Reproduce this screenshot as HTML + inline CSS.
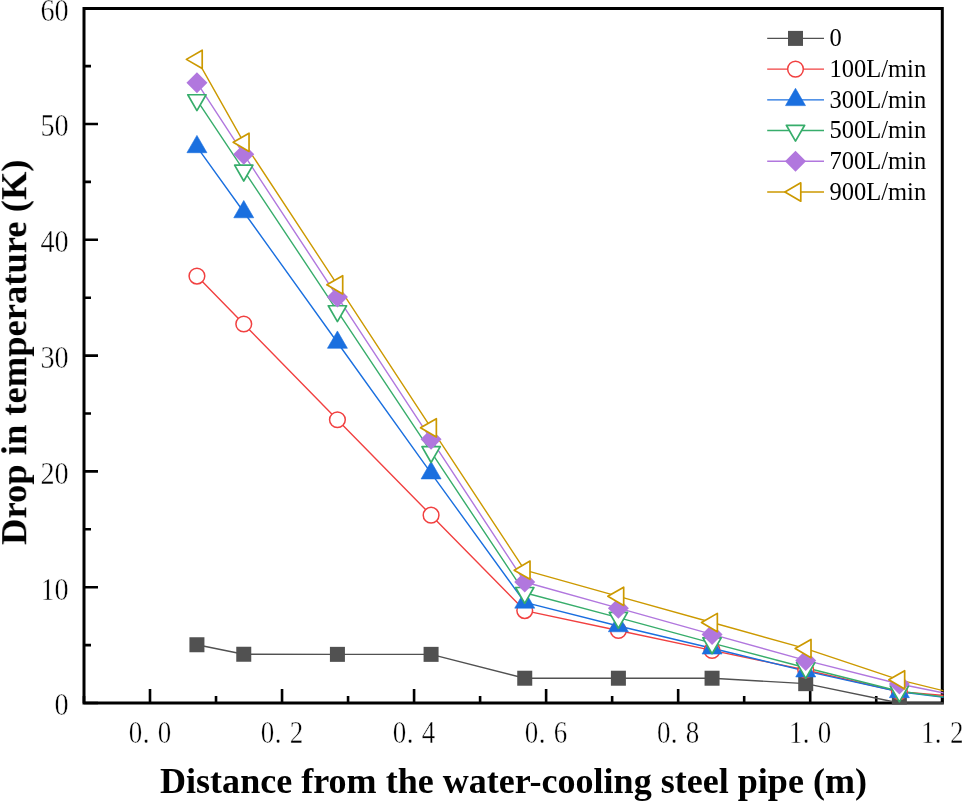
<!DOCTYPE html>
<html><head><meta charset="utf-8"><title>Drop in temperature chart</title>
<style>html,body{margin:0;padding:0;background:#fff;overflow:hidden}svg{display:block;will-change:transform}</style>
</head><body>
<svg width="962" height="801" viewBox="0 0 962 801"><path d="M84.0,8.5 H942.3 V703.0 H84.0 Z" fill="none" stroke="#000" stroke-width="3.0" stroke-linejoin="miter"/>
<path d="M84.0,703.00 h14 M84.0,645.10 h7 M84.0,587.20 h14 M84.0,529.30 h7 M84.0,471.40 h14 M84.0,413.50 h7 M84.0,355.60 h14 M84.0,297.70 h7 M84.0,239.80 h14 M84.0,181.90 h7 M84.0,124.00 h14 M84.0,66.10 h7 M84.0,8.20 h14 M83.98,703.0 v-7 M150.00,703.0 v-14 M216.02,703.0 v-7 M282.04,703.0 v-14 M348.06,703.0 v-7 M414.08,703.0 v-14 M480.10,703.0 v-7 M546.12,703.0 v-14 M612.14,703.0 v-7 M678.16,703.0 v-14 M744.18,703.0 v-7 M810.20,703.0 v-14 M876.22,703.0 v-7 M942.24,703.0 v-14" stroke="#000" stroke-width="2.6" fill="none"/>
<defs><clipPath id="c"><rect x="0" y="0" width="943.5" height="704.4"/></clipPath></defs>
<g clip-path="url(#c)">
<polyline points="196.93,644.75 243.76,654.25 337.42,654.36 431.08,654.36 524.74,678.22 618.40,678.22 712.06,678.22 805.72,683.66 899.38,703.00 993.04,703.00" fill="none" stroke="#515151" stroke-width="1.4" stroke-linejoin="round"/>
<polyline points="196.93,276.05 243.76,323.99 337.42,419.75 431.08,515.17 524.74,610.59 618.40,630.51 712.06,650.43 805.72,670.00 899.38,691.77 993.04,699.53" fill="none" stroke="#F14040" stroke-width="1.4" stroke-linejoin="round"/>
<polyline points="196.93,146.93 243.76,212.01 337.42,342.51 431.08,473.14 524.74,602.37 618.40,625.99 712.06,648.23 805.72,671.15 899.38,691.88 993.04,703.00" fill="none" stroke="#1A6FDF" stroke-width="1.4" stroke-linejoin="round"/>
<polyline points="196.93,100.03 243.76,170.44 337.42,311.02 431.08,451.95 524.74,592.76 618.40,617.66 712.06,643.13 805.72,667.80 899.38,691.30 993.04,703.00" fill="none" stroke="#37AD6B" stroke-width="1.4" stroke-linejoin="round"/>
<polyline points="196.93,82.66 243.76,154.34 337.42,296.89 431.08,439.32 524.74,581.99 618.40,608.16 712.06,634.45 805.72,660.39 899.38,684.01 993.04,703.00" fill="none" stroke="#B177DE" stroke-width="1.4" stroke-linejoin="round"/>
<polyline points="196.93,59.38 243.76,142.30 337.42,284.85 431.08,427.86 524.74,570.18 618.40,596.35 712.06,622.52 805.72,648.57 899.38,679.84 993.04,703.00" fill="none" stroke="#CC9900" stroke-width="1.4" stroke-linejoin="round"/>
<rect x="189.43" y="637.25" width="15.0" height="15.0" fill="#515151"/>
<rect x="236.26" y="646.75" width="15.0" height="15.0" fill="#515151"/>
<rect x="329.92" y="646.86" width="15.0" height="15.0" fill="#515151"/>
<rect x="423.58" y="646.86" width="15.0" height="15.0" fill="#515151"/>
<rect x="517.24" y="670.72" width="15.0" height="15.0" fill="#515151"/>
<rect x="610.90" y="670.72" width="15.0" height="15.0" fill="#515151"/>
<rect x="704.56" y="670.72" width="15.0" height="15.0" fill="#515151"/>
<rect x="798.22" y="676.16" width="15.0" height="15.0" fill="#515151"/>
<rect x="891.88" y="695.50" width="15.0" height="15.0" fill="#515151"/>
<circle cx="196.93" cy="276.05" r="7.85" fill="#fff" stroke="#F14040" stroke-width="1.5"/>
<circle cx="243.76" cy="323.99" r="7.85" fill="#fff" stroke="#F14040" stroke-width="1.5"/>
<circle cx="337.42" cy="419.75" r="7.85" fill="#fff" stroke="#F14040" stroke-width="1.5"/>
<circle cx="431.08" cy="515.17" r="7.85" fill="#fff" stroke="#F14040" stroke-width="1.5"/>
<circle cx="524.74" cy="610.59" r="7.85" fill="#fff" stroke="#F14040" stroke-width="1.5"/>
<circle cx="618.40" cy="630.51" r="7.85" fill="#fff" stroke="#F14040" stroke-width="1.5"/>
<circle cx="712.06" cy="650.43" r="7.85" fill="#fff" stroke="#F14040" stroke-width="1.5"/>
<circle cx="805.72" cy="670.00" r="7.85" fill="#fff" stroke="#F14040" stroke-width="1.5"/>
<circle cx="899.38" cy="691.77" r="7.85" fill="#fff" stroke="#F14040" stroke-width="1.5"/>
<polygon points="196.93,135.38 186.93,152.70 206.93,152.70" fill="#1A6FDF" stroke="#1A6FDF" stroke-width="0.6" stroke-linejoin="round"/>
<polygon points="243.76,200.46 233.76,217.78 253.76,217.78" fill="#1A6FDF" stroke="#1A6FDF" stroke-width="0.6" stroke-linejoin="round"/>
<polygon points="337.42,330.97 327.42,348.29 347.42,348.29" fill="#1A6FDF" stroke="#1A6FDF" stroke-width="0.6" stroke-linejoin="round"/>
<polygon points="431.08,461.59 421.08,478.91 441.08,478.91" fill="#1A6FDF" stroke="#1A6FDF" stroke-width="0.6" stroke-linejoin="round"/>
<polygon points="524.74,590.82 514.74,608.14 534.74,608.14" fill="#1A6FDF" stroke="#1A6FDF" stroke-width="0.6" stroke-linejoin="round"/>
<polygon points="618.40,614.45 608.40,631.77 628.40,631.77" fill="#1A6FDF" stroke="#1A6FDF" stroke-width="0.6" stroke-linejoin="round"/>
<polygon points="712.06,636.68 702.06,654.00 722.06,654.00" fill="#1A6FDF" stroke="#1A6FDF" stroke-width="0.6" stroke-linejoin="round"/>
<polygon points="805.72,659.61 795.72,676.93 815.72,676.93" fill="#1A6FDF" stroke="#1A6FDF" stroke-width="0.6" stroke-linejoin="round"/>
<polygon points="899.38,680.34 889.38,697.66 909.38,697.66" fill="#1A6FDF" stroke="#1A6FDF" stroke-width="0.6" stroke-linejoin="round"/>
<polygon points="196.93,110.59 187.78,94.75 206.08,94.75" fill="#fff" stroke="#37AD6B" stroke-width="1.7" stroke-linejoin="round"/>
<polygon points="243.76,181.00 234.61,165.15 252.91,165.15" fill="#fff" stroke="#37AD6B" stroke-width="1.7" stroke-linejoin="round"/>
<polygon points="337.42,321.58 328.27,305.73 346.57,305.73" fill="#fff" stroke="#37AD6B" stroke-width="1.7" stroke-linejoin="round"/>
<polygon points="431.08,462.51 421.93,446.66 440.23,446.66" fill="#fff" stroke="#37AD6B" stroke-width="1.7" stroke-linejoin="round"/>
<polygon points="524.74,603.32 515.59,587.48 533.89,587.48" fill="#fff" stroke="#37AD6B" stroke-width="1.7" stroke-linejoin="round"/>
<polygon points="618.40,628.22 609.25,612.37 627.55,612.37" fill="#fff" stroke="#37AD6B" stroke-width="1.7" stroke-linejoin="round"/>
<polygon points="712.06,653.70 702.91,637.85 721.21,637.85" fill="#fff" stroke="#37AD6B" stroke-width="1.7" stroke-linejoin="round"/>
<polygon points="805.72,678.36 796.57,662.51 814.87,662.51" fill="#fff" stroke="#37AD6B" stroke-width="1.7" stroke-linejoin="round"/>
<polygon points="899.38,701.87 890.23,686.02 908.53,686.02" fill="#fff" stroke="#37AD6B" stroke-width="1.7" stroke-linejoin="round"/>
<polygon points="196.93,72.16 207.43,82.66 196.93,93.16 186.43,82.66" fill="#B177DE"/>
<polygon points="243.76,143.84 254.26,154.34 243.76,164.84 233.26,154.34" fill="#B177DE"/>
<polygon points="337.42,286.39 347.92,296.89 337.42,307.39 326.92,296.89" fill="#B177DE"/>
<polygon points="431.08,428.82 441.58,439.32 431.08,449.82 420.58,439.32" fill="#B177DE"/>
<polygon points="524.74,571.49 535.24,581.99 524.74,592.49 514.24,581.99" fill="#B177DE"/>
<polygon points="618.40,597.66 628.90,608.16 618.40,618.66 607.90,608.16" fill="#B177DE"/>
<polygon points="712.06,623.95 722.56,634.45 712.06,644.95 701.56,634.45" fill="#B177DE"/>
<polygon points="805.72,649.89 816.22,660.39 805.72,670.89 795.22,660.39" fill="#B177DE"/>
<polygon points="899.38,673.51 909.88,684.01 899.38,694.51 888.88,684.01" fill="#B177DE"/>
<polygon points="186.36,59.38 202.21,50.23 202.21,68.53" fill="#fff" stroke="#CC9900" stroke-width="1.7" stroke-linejoin="round"/>
<polygon points="233.19,142.30 249.04,133.15 249.04,151.45" fill="#fff" stroke="#CC9900" stroke-width="1.7" stroke-linejoin="round"/>
<polygon points="326.85,284.85 342.70,275.70 342.70,294.00" fill="#fff" stroke="#CC9900" stroke-width="1.7" stroke-linejoin="round"/>
<polygon points="420.51,427.86 436.36,418.71 436.36,437.01" fill="#fff" stroke="#CC9900" stroke-width="1.7" stroke-linejoin="round"/>
<polygon points="514.17,570.18 530.02,561.03 530.02,579.33" fill="#fff" stroke="#CC9900" stroke-width="1.7" stroke-linejoin="round"/>
<polygon points="607.83,596.35 623.68,587.20 623.68,605.50" fill="#fff" stroke="#CC9900" stroke-width="1.7" stroke-linejoin="round"/>
<polygon points="701.49,622.52 717.34,613.37 717.34,631.67" fill="#fff" stroke="#CC9900" stroke-width="1.7" stroke-linejoin="round"/>
<polygon points="795.15,648.57 811.00,639.42 811.00,657.72" fill="#fff" stroke="#CC9900" stroke-width="1.7" stroke-linejoin="round"/>
<polygon points="888.81,679.84 904.66,670.69 904.66,688.99" fill="#fff" stroke="#CC9900" stroke-width="1.7" stroke-linejoin="round"/>
</g>
<line x1="767.2" y1="38.40" x2="824" y2="38.40" stroke="#515151" stroke-width="1.4"/>
<rect x="788.00" y="30.90" width="15.0" height="15.0" fill="#515151"/>
<line x1="767.2" y1="69.12" x2="824" y2="69.12" stroke="#F14040" stroke-width="1.4"/>
<circle cx="795.50" cy="69.12" r="7.85" fill="#fff" stroke="#F14040" stroke-width="1.5"/>
<line x1="767.2" y1="99.84" x2="824" y2="99.84" stroke="#1A6FDF" stroke-width="1.4"/>
<polygon points="795.50,88.29 785.50,105.61 805.50,105.61" fill="#1A6FDF" stroke="#1A6FDF" stroke-width="0.6" stroke-linejoin="round"/>
<line x1="767.2" y1="130.56" x2="824" y2="130.56" stroke="#37AD6B" stroke-width="1.4"/>
<polygon points="795.50,141.13 786.35,125.28 804.65,125.28" fill="#fff" stroke="#37AD6B" stroke-width="1.7" stroke-linejoin="round"/>
<line x1="767.2" y1="161.28" x2="824" y2="161.28" stroke="#B177DE" stroke-width="1.4"/>
<polygon points="795.50,150.78 806.00,161.28 795.50,171.78 785.00,161.28" fill="#B177DE"/>
<line x1="767.2" y1="192.00" x2="824" y2="192.00" stroke="#CC9900" stroke-width="1.4"/>
<polygon points="784.93,192.00 800.78,182.85 800.78,201.15" fill="#fff" stroke="#CC9900" stroke-width="1.7" stroke-linejoin="round"/>
<g opacity="0.999" font-family="Liberation Serif, serif" font-size="24.5" fill="#000"><text transform="translate(829.5,46.20)">0</text><text transform="translate(829.5,76.92)">100L/min</text><text transform="translate(829.5,107.64)">300L/min</text><text transform="translate(829.5,138.36)">500L/min</text><text transform="translate(829.5,169.08)">700L/min</text><text transform="translate(829.5,199.80)">900L/min</text></g>
<g opacity="0.999" font-family="Liberation Serif, serif" font-size="30" fill="#000" stroke="#fff" stroke-width="0.4"><text transform="translate(68.7,715.30) scale(0.94,1.025)" text-anchor="end">0</text><text transform="translate(68.7,599.50) scale(0.94,1.025)" text-anchor="end">10</text><text transform="translate(68.7,483.70) scale(0.94,1.025)" text-anchor="end">20</text><text transform="translate(68.7,367.90) scale(0.94,1.025)" text-anchor="end">30</text><text transform="translate(68.7,252.10) scale(0.94,1.025)" text-anchor="end">40</text><text transform="translate(68.7,136.30) scale(0.94,1.025)" text-anchor="end">50</text><text transform="translate(68.7,21.00) scale(0.94,1.025)" text-anchor="end">60</text></g>
<g opacity="0.999" font-family="Liberation Serif, serif" font-size="30" fill="#000" stroke="#fff" stroke-width="0.4"><text transform="translate(135.50,743.2) scale(0.9,1.065)" text-anchor="middle">0</text><text transform="translate(146.00,743.2) scale(0.9,1.065)" text-anchor="middle">.</text><text transform="translate(164.40,743.2) scale(0.9,1.065)" text-anchor="middle">0</text><text transform="translate(267.54,743.2) scale(0.9,1.065)" text-anchor="middle">0</text><text transform="translate(278.04,743.2) scale(0.9,1.065)" text-anchor="middle">.</text><text transform="translate(296.44,743.2) scale(0.9,1.065)" text-anchor="middle">2</text><text transform="translate(399.58,743.2) scale(0.9,1.065)" text-anchor="middle">0</text><text transform="translate(410.08,743.2) scale(0.9,1.065)" text-anchor="middle">.</text><text transform="translate(428.48,743.2) scale(0.9,1.065)" text-anchor="middle">4</text><text transform="translate(531.62,743.2) scale(0.9,1.065)" text-anchor="middle">0</text><text transform="translate(542.12,743.2) scale(0.9,1.065)" text-anchor="middle">.</text><text transform="translate(560.52,743.2) scale(0.9,1.065)" text-anchor="middle">6</text><text transform="translate(663.66,743.2) scale(0.9,1.065)" text-anchor="middle">0</text><text transform="translate(674.16,743.2) scale(0.9,1.065)" text-anchor="middle">.</text><text transform="translate(692.56,743.2) scale(0.9,1.065)" text-anchor="middle">8</text><text transform="translate(795.70,743.2) scale(0.9,1.065)" text-anchor="middle">1</text><text transform="translate(806.20,743.2) scale(0.9,1.065)" text-anchor="middle">.</text><text transform="translate(824.60,743.2) scale(0.9,1.065)" text-anchor="middle">0</text><text transform="translate(927.74,743.2) scale(0.9,1.065)" text-anchor="middle">1</text><text transform="translate(938.24,743.2) scale(0.9,1.065)" text-anchor="middle">.</text><text transform="translate(956.64,743.2) scale(0.9,1.065)" text-anchor="middle">2</text></g>
<g opacity="0.999">
<text x="160" y="792.6" font-family="Liberation Serif, serif" font-weight="bold" font-size="35.5" textLength="707" lengthAdjust="spacingAndGlyphs">Distance from the water-cooling steel pipe (m)</text>
<text transform="translate(26.2,545) rotate(-90)" x="0" y="0" font-family="Liberation Serif, serif" font-weight="bold" font-size="35.5" textLength="385.5" lengthAdjust="spacingAndGlyphs">Drop in temperature (K)</text>
</g></svg>
</body></html>
